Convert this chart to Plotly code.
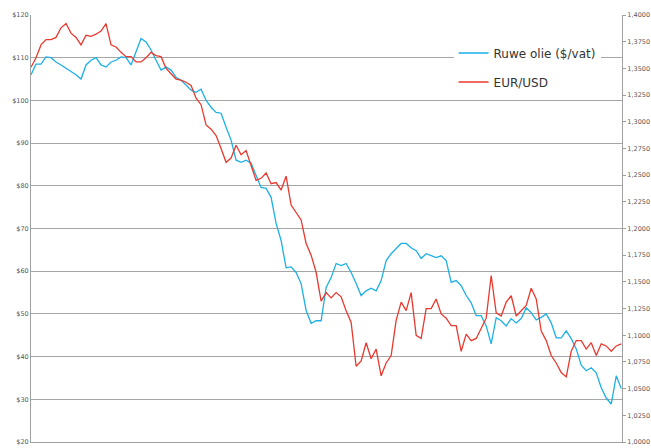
import plotly.graph_objects as go

# Day index (x positions, no labels on the x axis in the reference)
days = list(range(119))

# Crude oil price ($ per barrel) - left axis
oil = [106, 108.5, 108.5, 110.2, 110, 109, 108.3, 107.6, 106.7, 106,
       105, 108.3, 109.4, 110, 108.3, 107.8, 109, 109.4, 110.2, 110,
       108.3, 111.3, 114.5, 113.7, 111.8, 109.4, 107.1, 107.8, 107.1, 105.4,
       104.7, 103.6, 102.4, 101.9, 102.6, 100, 98.4, 97.2, 97, 93.7,
       90.7, 86, 85.5, 86, 85.3, 82.4, 79.6, 79.4, 77.3, 71.2,
       67.2, 60.8, 61, 59.7, 57.1, 50.8, 47.8, 48.4, 48.4, 56.2,
       58.5, 61.8, 61.3, 61.8, 59.7, 57.1, 54.3, 55.4, 56, 55.4,
       57.8, 62.5, 64.1, 65.3, 66.5, 66.5, 65.5, 64.8, 63, 64.1,
       63.6, 63.2, 63.6, 62.5, 57.4, 57.8, 56.6, 54.3, 52.6, 49.6,
       49.6, 47.2, 43, 49.1, 48.4, 47.2, 48.9, 47.9, 48.9, 51.4,
       50.3, 48.6, 49.2, 50, 47.9, 44.4, 44.4, 46, 44.2, 41.8,
       38, 36.7, 37.4, 36.2, 32.7, 30.3, 28.9, 35.5, 32.5]

# EUR/USD exchange rate - right axis
eurusd = [1.351, 1.360, 1.372, 1.377, 1.377, 1.379, 1.388, 1.392, 1.383, 1.379,
          1.372, 1.381, 1.380, 1.382, 1.385, 1.392, 1.372, 1.370, 1.365, 1.361,
          1.361, 1.356, 1.356, 1.360, 1.365, 1.362, 1.361, 1.350, 1.345, 1.340,
          1.339, 1.337, 1.334, 1.322, 1.316, 1.297, 1.293, 1.287, 1.275, 1.262,
          1.266, 1.278, 1.269, 1.273, 1.259, 1.245, 1.247, 1.252, 1.242, 1.243,
          1.236, 1.249, 1.222, 1.215, 1.208, 1.186, 1.175, 1.159, 1.132, 1.140,
          1.135, 1.140, 1.136, 1.123, 1.112, 1.071, 1.076, 1.093, 1.078, 1.087,
          1.062, 1.074, 1.081, 1.114, 1.131, 1.123, 1.140, 1.100, 1.097, 1.125,
          1.125, 1.134, 1.120, 1.116, 1.109, 1.109, 1.085, 1.101, 1.095, 1.097,
          1.106, 1.116, 1.156, 1.121, 1.118, 1.131, 1.137, 1.118, 1.123, 1.128,
          1.144, 1.134, 1.104, 1.095, 1.081, 1.074, 1.065, 1.061, 1.085, 1.095,
          1.095, 1.087, 1.093, 1.081, 1.092, 1.090, 1.085, 1.090, 1.092]

oil_ticks = [20, 30, 40, 50, 60, 70, 80, 90, 100, 110, 120]
oil_labels = ["$20", "$30", "$40", "$50", "$60", "$70", "$80", "$90",
              "$100", "$110", "$120"]

fig = go.Figure()
fig.add_trace(go.Scatter(x=days, y=oil, name="Ruwe olie ($/vat)", mode="lines",
                         line=dict(color="#1cb0e6", width=1.3), yaxis="y",
                         legendgroup="oil"))
fig.add_trace(go.Scatter(x=days, y=eurusd, name="EUR/USD", mode="lines",
                         line=dict(color="#e8392f", width=1.3), yaxis="y2",
                         legendgroup="fx"))

tickfont = dict(size=6.5, color="#595959", family="DejaVu Sans")

fig.update_layout(
    width=651, height=448,
    margin=dict(l=31, r=29, t=15, b=6),
    paper_bgcolor="white", plot_bgcolor="white",
    separators=",.",
    xaxis=dict(range=[0, 118.15], showgrid=False, zeroline=False,
               showticklabels=False, showline=True, linecolor="#a0a0a0",
               ticks="", automargin=False),
    yaxis=dict(range=[20, 120], tickvals=oil_ticks, ticktext=oil_labels,
               showgrid=True, gridcolor="#a6a6a6", gridwidth=1,
               showline=True, linecolor="#a0a0a0", ticks="", zeroline=False,
               tickfont=tickfont, automargin=False),
    yaxis2=dict(overlaying="y", side="right", range=[1.0, 1.4], dtick=0.025,
                tickformat=".4f", showgrid=False, zeroline=False, showline=True,
                linecolor="#a0a0a0", ticks="outside", ticklen=3,
                tickcolor="#a0a0a0", tickfont=tickfont, automargin=False),
    legend=dict(x=0.715, y=0.945, xanchor="left", yanchor="top",
                bgcolor="white", font=dict(size=12, family="DejaVu Sans",
                                           color="#333333"),
                tracegroupgap=10),
    showlegend=True,
)

fig.write_html("out.html",
               config={"displayModeBar": False},
               post_script="document.body.style.margin='0';"
                           "document.body.style.padding='0';")
